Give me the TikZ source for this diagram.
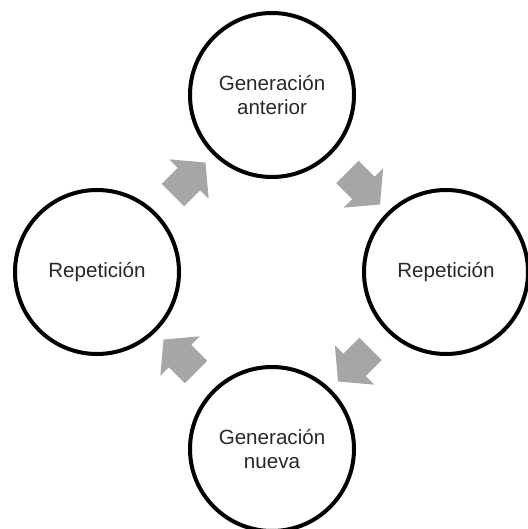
\documentclass[tikz,border=0pt]{standalone}
\usepackage{fontspec}
\setmainfont{Liberation Sans}
\usepackage{tikz}
\usetikzlibrary{shapes.arrows,calc}
\definecolor{flecha}{RGB}{166,166,166}
\definecolor{letra}{RGB}{40,40,40}
\tikzset{etapa/.style={draw,circle,line width=2pt,minimum size=82pt,inner sep=0pt,align=center,text=letra,font=\fontsize{10.3}{11.8}\selectfont},
	paso/.style={single arrow,fill=flecha,draw=none,minimum height=23pt,minimum width=27.5pt,single arrow head extend=6pt,single arrow tip angle=100,inner xsep=0pt,inner ysep=7.75pt}}

\begin{document}
\begin{tikzpicture}[x=0.5pt,y=-0.5pt]
			\useasboundingbox (0,0) rectangle (528,529);
			\node[etapa] (ant) at (272,95) {Generación\\anterior};
			\node[etapa] (rep1) at (446,272) {Repetición};
			\node[etapa] (nue) at (272,449) {Generación\\nueva};
			\node[etapa] (rep2) at (97,272) {Repetición};
			\node[paso,rotate=45] (f1) at ($(rep2)!0.5!(ant)$) {};
			\node[paso,rotate=-45] (f2) at ($(ant)!0.5!(rep1)$) {};
			\node[paso,rotate=-135] (f3) at ($(rep1)!0.5!(nue)$) {};
			\node[paso,rotate=135] (f4) at ($(nue)!0.5!(rep2)$) {};
		\end{tikzpicture}
\end{document}
